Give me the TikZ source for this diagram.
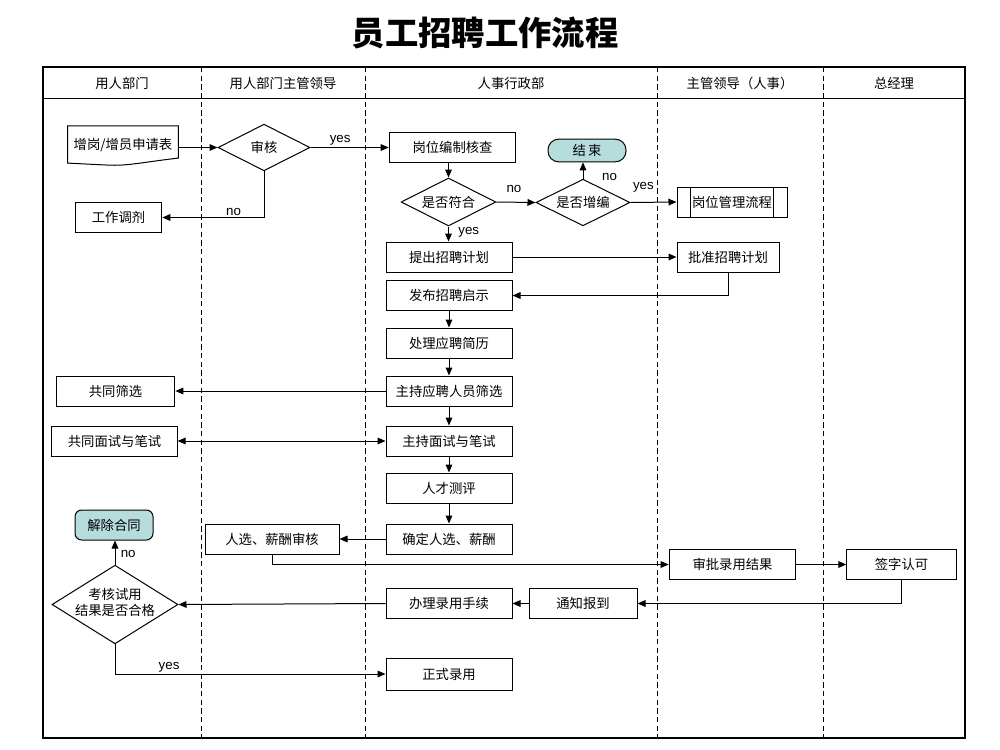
\documentclass[tikz,border=0pt]{standalone}
\usepackage{fontspec}
\setmainfont{Liberation Sans}
\newfontfamily\cjk{Noto Sans CJK SC}
\usepackage{tikz}
\usetikzlibrary{positioning,arrows.meta,calc,shapes.geometric}
\definecolor{endteal}{HTML}{B6DCDC}
\definecolor{ink}{HTML}{000000}
\newcommand{\slim}[1]{\makebox[0pt]{#1}}
\newcommand{\twoline}[2]{\slim{\begin{tabular}{@{}c@{}}#1\\#2\end{tabular}}}
\tikzset{
  proc/.style    = {rectangle, draw=ink, fill=white, line width=0.75pt, minimum width=#1,
                    minimum height=22.5pt, inner sep=2pt, font=\cjk\fontsize{10}{12}\selectfont},
  proc/.default  = 94.5pt,
  dec/.style 2 args = {diamond, aspect=2, draw=ink, fill=white, line width=0.75pt, minimum width=#1,
                    minimum height=#2, inner sep=0pt, font=\cjk\fontsize{10}{12}\selectfont},
  term/.style    = {rectangle, rounded corners=#1, draw=ink, fill=endteal, line width=0.75pt,
                    inner sep=2pt, font=\cjk\fontsize{10}{12}\selectfont},
  flow/.style    = {-{Triangle[length=6pt,width=5pt]}, line width=0.75pt, draw=ink},
  both/.style    = {{Triangle[length=6pt,width=5pt]}-{Triangle[length=6pt,width=5pt]}, line width=0.75pt, draw=ink},
  lbl/.style     = {font=\fontsize{10}{12}\selectfont, inner sep=1pt},
  hdr/.style     = {font=\cjk\fontsize{10}{12}\selectfont},
  lanesep/.style = {dash pattern=on 4pt off 2.5pt, line width=0.6pt},
}

\begin{document}
\begin{tikzpicture}[x=0.75pt, y=-0.75pt]
  \useasboundingbox (0,0) rectangle (1000,750);
  \node[font=\cjk\bfseries\fontsize{25}{30}\selectfont] (title) at (485,33) {员工招聘工作流程};

  % swimlanes
  \draw[line width=1pt] (43,67) rectangle (965,738);
  \draw[line width=0.75pt] (43,98) -- (965,98);
  \foreach \x in {201,365,657,823}
    \draw[lanesep] (\x,67) -- (\x,738);
  \foreach \x/\t in {122/用人部门, 283/用人部门主管领导, 511/人事行政部, 740/主管领导（人事）, 894/总经理}
    \node[hdr] (h\x) at (\x,83) {\t};

  % request and first check
  \node[font=\cjk\fontsize{10}{12}\selectfont, minimum width=82.5pt, minimum height=29pt] (req) at (123,145.5) {增岗/增员申请表};
  \draw[line width=0.75pt] (req.north west) -- (req.north east) -- ($(req.south east)+(0,-7)$)
    .. controls ($(req.south east)+(-35,-3)$) and ($(req.south west)+(60,1)$) .. ($(req.south west)+(40,0)$)
    -- ($(req.south west)+(0,-2)$) -- cycle;
  \node[dec={69pt}{35pt}] (chk) at (264,147.5) {\slim{审核}};
  \node[proc=65pt, minimum height=23pt] (adj) at (118.5,217.5) {工作调剂};

  % HR column
  \node[proc=95pt] (quota) at (452.5,147.5) {岗位编制核查};
  \node[dec={71pt}{36pt}] (fit) at (448.5,202) {\slim{是否符合}};
  \node[dec={70.5pt}{35pt}] (add) at (583,202.5) {\slim{是否增编}};
  \node[term=8pt, minimum width=58.5pt, minimum height=17pt] (done) at (587,150.5) {结\,束};
  \node[proc=82.5pt] (pflow) at (732,202) {岗位管理流程};
  \draw[line width=0.75pt] ($(pflow.north west)+(14,0)$) -- ($(pflow.south west)+(14,0)$);
  \draw[line width=0.75pt] ($(pflow.north east)+(-14,0)$) -- ($(pflow.south east)+(-14,0)$);
  \node[proc] (plan) at (449,257) {提出招聘计划};
  \node[proc=76.5pt] (approve) at (728,257) {批准招聘计划};
  \node[proc] (post) at (449,295.5) {发布招聘启示};
  \node[proc] (cv) at (449,343) {处理应聘简历};
  \node[proc] (screen) at (449,391) {主持应聘人员筛选};
  \node[proc] (test) at (449,441) {主持面试与笔试};
  \node[proc] (eval) at (449,488) {人才测评};
  \node[proc] (pick) at (449,539) {确定人选、薪酬};
  \node[proc] (onboard) at (449,603.5) {办理录用手续};
  \node[proc, minimum height=24pt] (hire) at (449,674) {正式录用};

  % department side
  \node[proc=89pt] (jscreen) at (115.5,391) {共同筛选};
  \node[proc=94pt] (jtest) at (114.5,441) {共同面试与笔试};
  \node[proc=100.5pt] (pickchk) at (272,539) {人选、薪酬审核};
  \node[term=5pt, minimum width=58.5pt, minimum height=22.5pt] (quit) at (114,525) {解除合同};
  \node[dec={94.5pt}{59pt}] (trial) at (115,604.5) {\twoline{考核试用}{结果是否合格}};

  % approvals
  \node[proc=95pt, minimum height=23pt] (review) at (732.5,564.5) {审批录用结果};
  \node[proc=82pt, minimum height=23pt] (sign) at (901.5,564.5) {签字认可};
  \node[proc=81pt, minimum height=23pt] (notify) at (583,603.5) {通知报到};

  \draw[flow] (chk.west -| req.east) -- (chk.west);
  \draw[flow] (chk.east) -- node[lbl, above, pos=0.38] {yes} (quota.west);
  \draw[flow] (chk.south) |- node[lbl, above, pos=0.65] {no} (adj.east);
  \draw[flow] (quota.south -| fit.north) -- (fit.north);
  \draw[flow] (fit.east) -- node[lbl, above=6pt, pos=0.45] {no} (add.west);
  \draw[flow] (add.north) -- node[lbl, right=13pt, pos=0.1] {no} (add.north |- done.south);
  \draw[flow] (add.east) -- node[lbl, above=6pt, pos=0.28] {yes} (pflow.west);
  \draw[flow] (fit.south) -- node[lbl, right=6pt, pos=0.4] {yes} (fit.south |- plan.north);
  \draw[flow] (plan.east) -- (approve.west);
  \draw[flow] (approve.south) |- (post.east);
  \draw[flow] (post) -- (cv);
  \draw[flow] (cv) -- (screen);
  \draw[flow] (screen) -- (test);
  \draw[flow] (test) -- (eval);
  \draw[flow] (eval) -- (pick);
  \draw[flow] (screen.west) -- (jscreen.east);
  \draw[both] (jtest.east) -- (test.west);
  \draw[flow] (pick.west) -- (pickchk.east);
  \draw[flow] (pickchk.south) |- (review.west);
  \draw[flow] (review.east) -- (sign.west);
  \draw[flow] (sign.south) |- (notify.east);
  \draw[flow] (notify.west) -- (onboard.east);
  \draw[flow] (onboard.west) -- (trial.east);
  \draw[flow] (trial.north) -- node[lbl, right=3pt, pos=0.45] {no} (trial.north |- quit.south);
  \draw[flow] (trial.south) |- node[lbl, above, pos=0.6] {yes} (hire.west);
\end{tikzpicture}
\end{document}
